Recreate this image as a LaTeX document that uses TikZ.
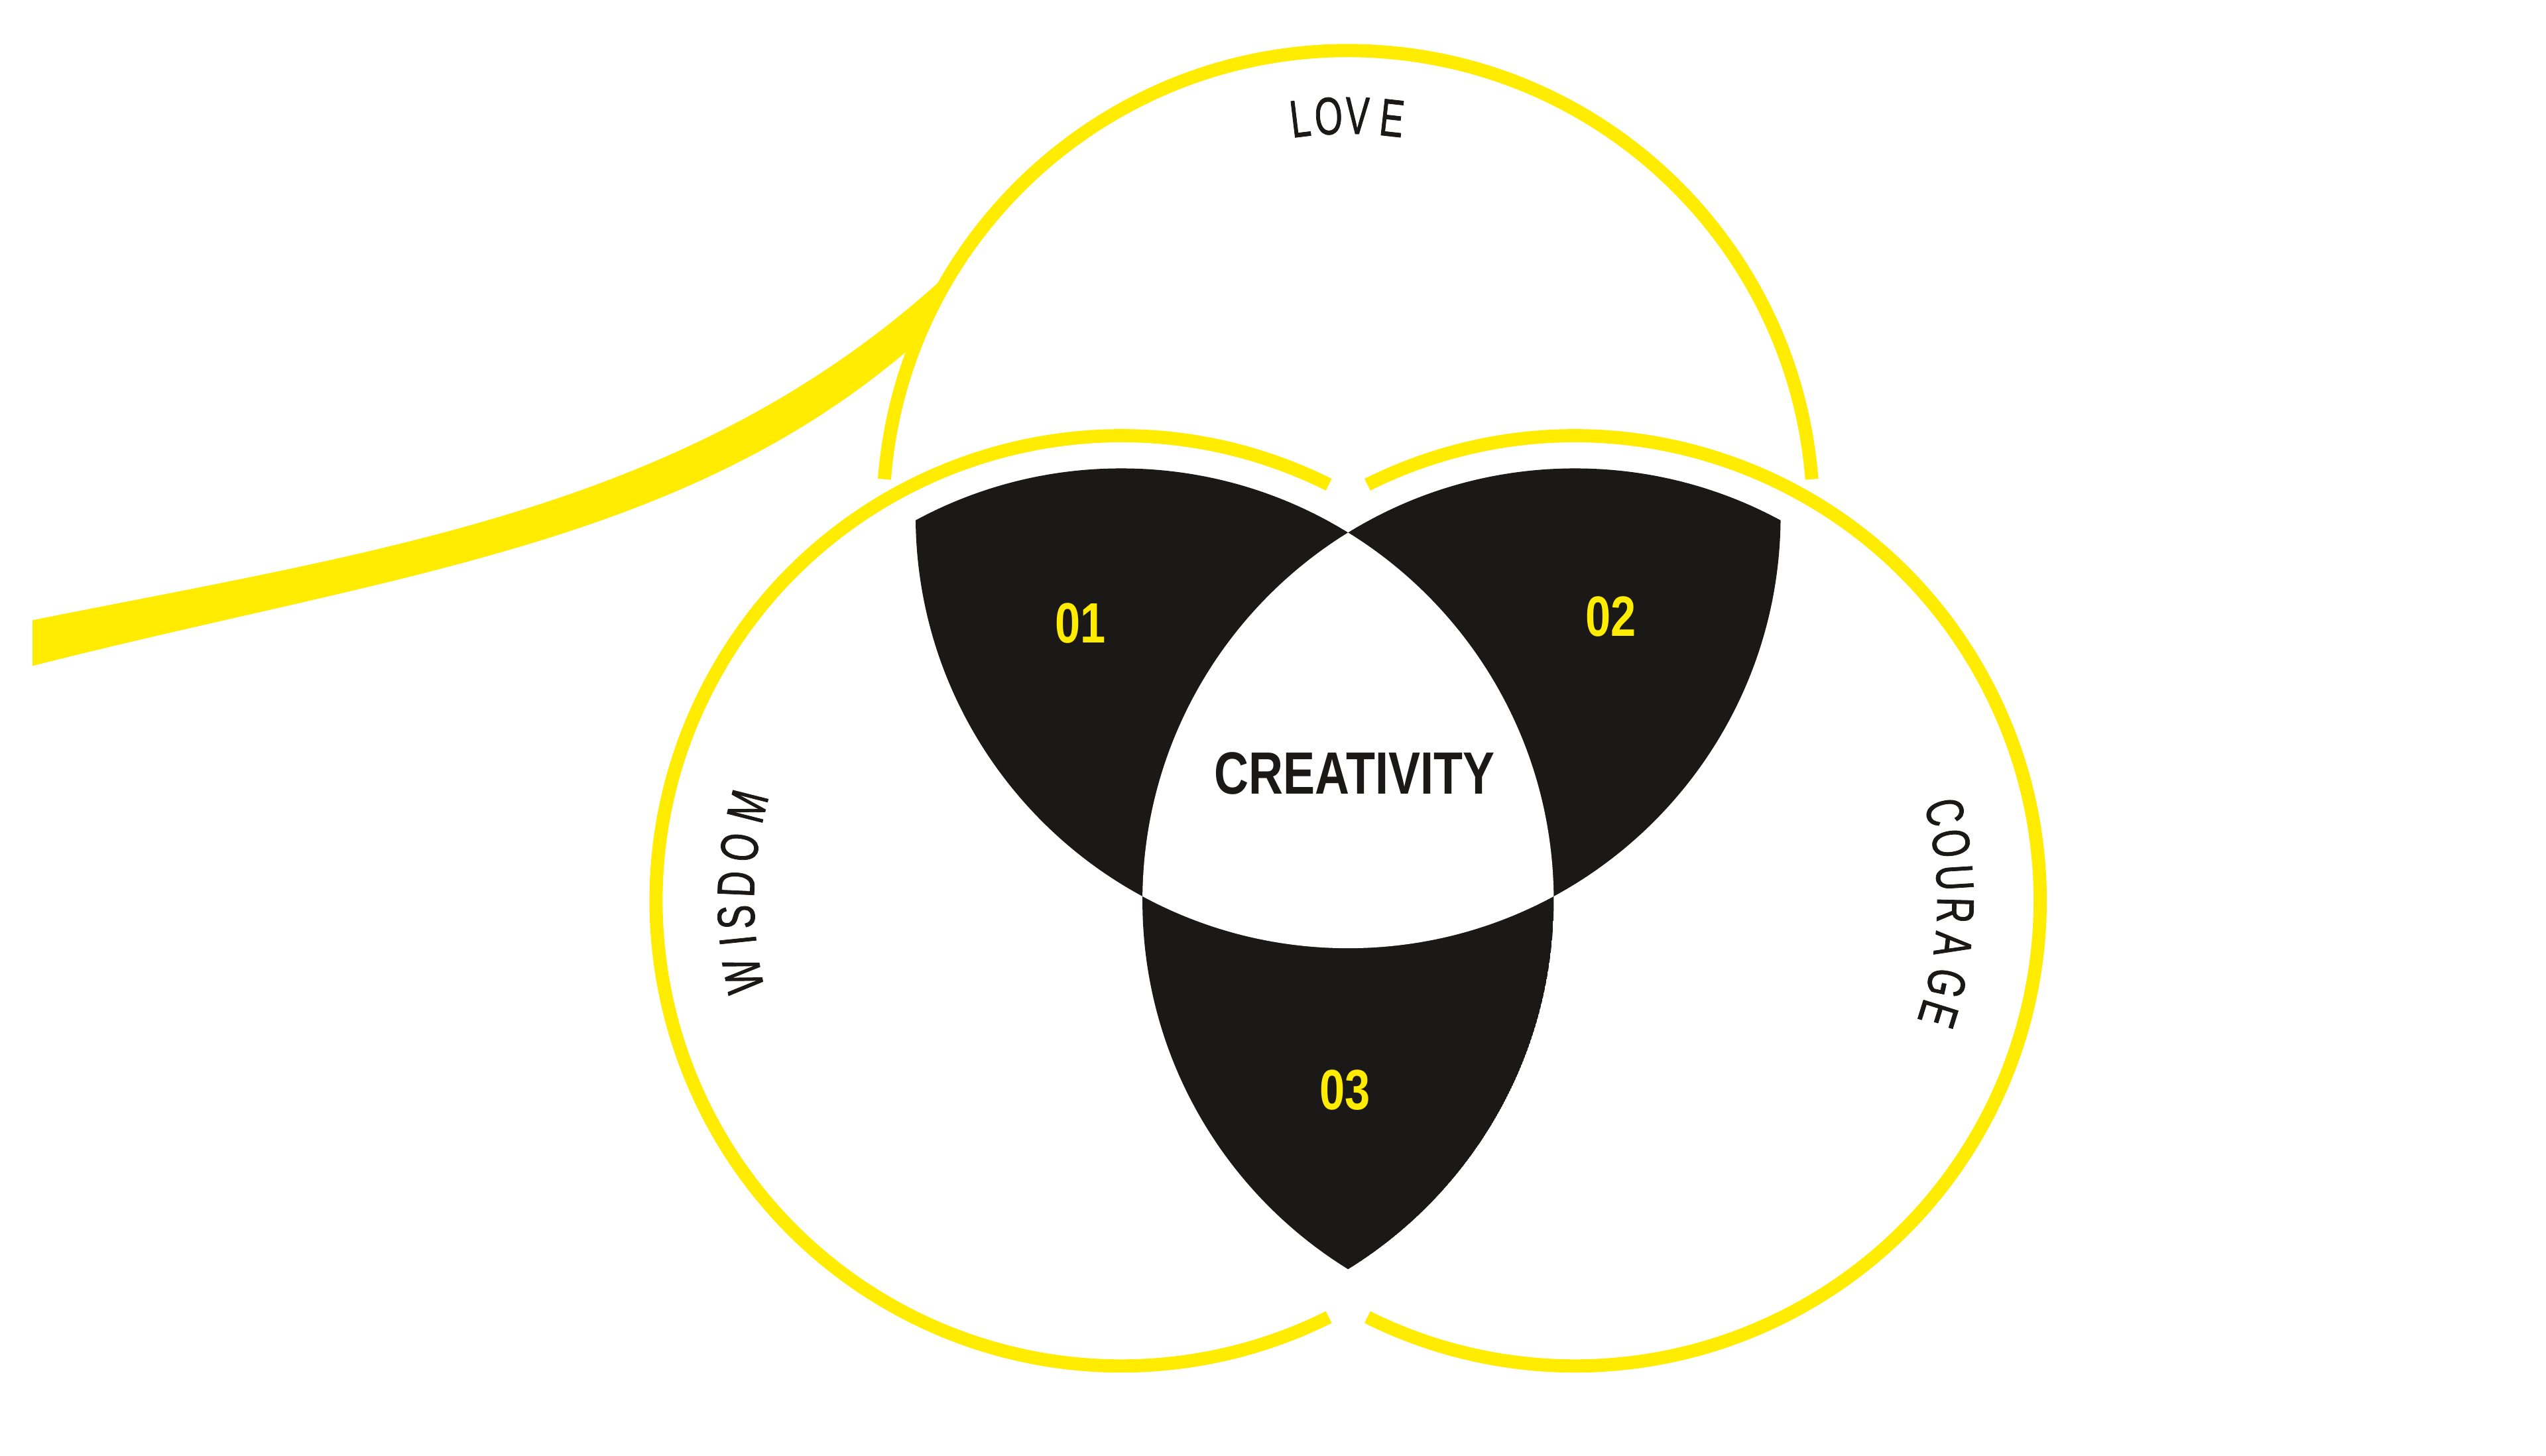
\documentclass[tikz,border=0pt]{standalone}
\usepackage{fontspec}
\usetikzlibrary{calc}
\newfontfamily\condfont{Liberation Sans}[FakeStretch=0.80]
\newfontfamily\ringfont{Liberation Sans}[FakeStretch=0.68,FakeBold=1]
\definecolor{vennyellow}{RGB}{255,236,0}
\definecolor{vennblack}{RGB}{27,25,23}
\tikzset{
  ring/.style={draw=vennyellow, line width=2.3pt},
  lens/.style={fill=vennblack},
  numlabel/.style={text=vennyellow, inner sep=0pt, font=\condfont\bfseries\fontsize{9.9}{10}\selectfont},
  ringletter/.style={anchor=base, inner sep=0pt, text=vennblack, font=\ringfont\fontsize{9.2}{10}\selectfont}
}
\begin{document}
\begin{tikzpicture}
\useasboundingbox (0,0) rectangle (15.6,8.92);
\def\rin{2.65}
\def\rring{2.85}
\coordinate (cl) at (6.87,3.40);
\coordinate (cr) at (9.65,3.40);
\coordinate (ct) at (8.26,5.76);
% black lenses
\begin{scope}
\clip (cl) circle (\rin);
\clip (ct) circle (\rin);
\fill[lens] (cl) circle (\rin);
\end{scope}
\begin{scope}
\clip (cr) circle (\rin);
\clip (ct) circle (\rin);
\fill[lens] (cr) circle (\rin);
\end{scope}
\begin{scope}
\clip (cl) circle (\rin);
\clip (cr) circle (\rin);
\fill[lens] (cl) circle (\rin);
\end{scope}
% white centre
\begin{scope}
\clip (cl) circle (\rin);
\clip (ct) circle (\rin);
\fill[white] (cr) circle (\rin);
\end{scope}
% ribbon
\coordinate (ribstart) at (0.20,5.12);
\coordinate (ribend) at (0.20,4.84);
\coordinate (ribup) at ($(ct)+(147.7:\rring)$);
\fill[vennyellow] (ribstart) .. controls (2.4,5.56) and (4.3,5.82) .. (ribup)
  arc[start angle=147.7, end angle=158.2, radius=\rring]
  .. controls (4.2,5.58) and (2.4,5.40) .. (ribend) -- cycle;
% rings
\draw[ring] ($(cl)+(63.5:\rring)$) arc[start angle=63.5, end angle=296.5, radius=\rring];
\draw[ring] ($(cr)+(116.5:\rring)$) arc[start angle=116.5, end angle=-116.5, radius=\rring];
\draw[ring] ($(ct)+(175.5:\rring)$) arc[start angle=175.5, end angle=4.5, radius=\rring];
% labels
\node[text=vennblack, inner sep=0pt, font=\condfont\bfseries\fontsize{10.4}{12}\selectfont] (creativity) at (8.30,4.18) {CREATIVITY};
\node[numlabel] (n01) at (6.62,5.10) {01};
\node[numlabel] (n02) at (9.87,5.14) {02};
\node[numlabel] (n03) at (8.24,2.24) {03};
\foreach \ch/\a [count=\i] in {L/96.9, O/92.8, V/88.65, E/83.7}
  \node[ringletter, rotate=\a-90] (love\i) at ($(ct)+(\a:2.34)$) {\ch};
\foreach \ch/\a [count=\i] in {W/191.2, I/185.9, S/182.4, D/177.5, O/172.0, M/165.8}
  \node[ringletter, rotate=\a-90] (wisdom\i) at ($(cl)+(\a:2.25)$) {\ch};
\foreach \ch/\a [count=\i] in {C/13.5, O/8.7, U/3.5, R/-1.4, A/-6.6, G/-12.5, E/-17.3}
  \node[ringletter, rotate=\a-90] (courage\i) at ($(cr)+(\a:2.22)$) {\ch};
\end{tikzpicture}
\end{document}
